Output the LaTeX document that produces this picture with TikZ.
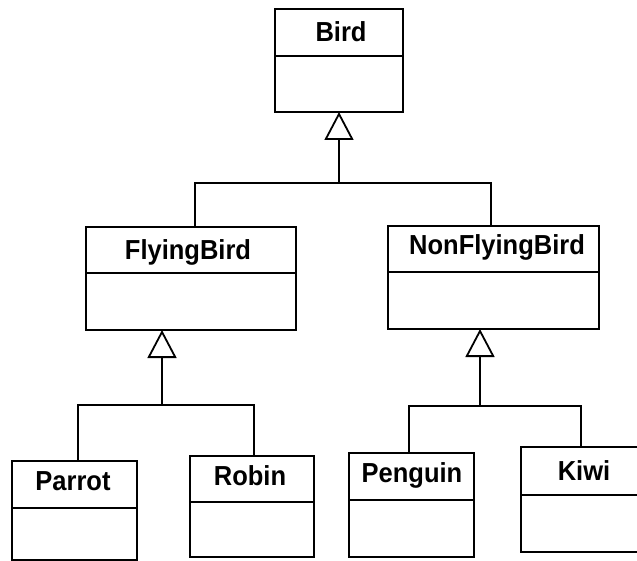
\documentclass[tikz,border=0pt]{standalone}
\usepackage{fontspec}
\setmainfont{Liberation Sans}
\usetikzlibrary{arrows.meta}
\newcommand\clsname[1]{\scalebox{1.02}[1.1]{#1}}
\begin{document}
\begin{tikzpicture}[x=1pt,y=-1pt,
  cls/.style={draw, line width=1.8pt, rectangle, inner sep=0pt, outer sep=0pt},
  ttl/.style={anchor=base, inner sep=0pt, font=\fontsize{25}{30}\selectfont\bfseries},
  hdr/.style={line width=1.8pt},
  conn/.style={line width=1.8pt},
  inherit/.style={conn, -{Triangle[open, length=28pt, width=29pt, line width=1.8pt]}}]
\clip (0,0) rectangle (637,561);
\fill[white] (0,0) rectangle (637,561);
% classes
\node[cls, minimum width=128pt, minimum height=103pt] (bird) at (339,60.5) {};
\node[cls, minimum width=210pt, minimum height=103pt] (fly) at (191,278.5) {};
\node[cls, minimum width=211pt, minimum height=103pt] (nonfly) at (493.5,277.5) {};
\node[cls, minimum width=125pt, minimum height=99pt] (parrot) at (74.5,510.5) {};
\node[cls, minimum width=124pt, minimum height=101pt] (robin) at (252,506.5) {};
\node[cls, minimum width=125pt, minimum height=104pt] (penguin) at (411.5,505) {};
\node[cls, minimum width=120pt, minimum height=105pt] (kiwi) at (581,499.5) {};
% header separators
\draw[hdr] (bird.west |- 0,56) -- (bird.east |- 0,56);
\draw[hdr] (fly.west |- 0,273) -- (fly.east |- 0,273);
\draw[hdr] (nonfly.west |- 0,272) -- (nonfly.east |- 0,272);
\draw[hdr] (parrot.west |- 0,508) -- (parrot.east |- 0,508);
\draw[hdr] (robin.west |- 0,502) -- (robin.east |- 0,502);
\draw[hdr] (penguin.west |- 0,500) -- (penguin.east |- 0,500);
\draw[hdr] (kiwi.west |- 0,495) -- (kiwi.east |- 0,495);
% titles
\node[ttl] (birdt) at (341,42) {\clsname{Bird}};
\node[ttl] (flyt) at (188,260) {\clsname{FlyingBird}};
\node[ttl] (nonflyt) at (497,255) {\clsname{NonFlyingBird}};
\node[ttl] (parrott) at (73,490) {\clsname{Parrot}};
\node[ttl] (robint) at (250,485) {\clsname{Robin}};
\node[ttl] (penguint) at (412,482) {\clsname{Penguin}};
\node[ttl] (kiwit) at (584,480) {\clsname{Kiwi}};
% junctions
\coordinate (j1) at (339,183);
\coordinate (j2) at (162,405);
\coordinate (j3) at (480,406);
% connectors
\draw[inherit] (j1) -- (bird.south);
\draw[conn] ([xshift=4pt]fly.north) |- (j1) -| ([xshift=-2.5pt]nonfly.north);
\draw[inherit] (j2) -- (fly.south -| j2);
\draw[conn] ([xshift=3.5pt]parrot.north) |- (j2) -| ([xshift=2pt]robin.north);
\draw[inherit] (j3) -- (nonfly.south -| j3);
\draw[conn] ([xshift=-2.5pt]penguin.north) |- (j3) -| (kiwi.north);
\end{tikzpicture}
\end{document}
